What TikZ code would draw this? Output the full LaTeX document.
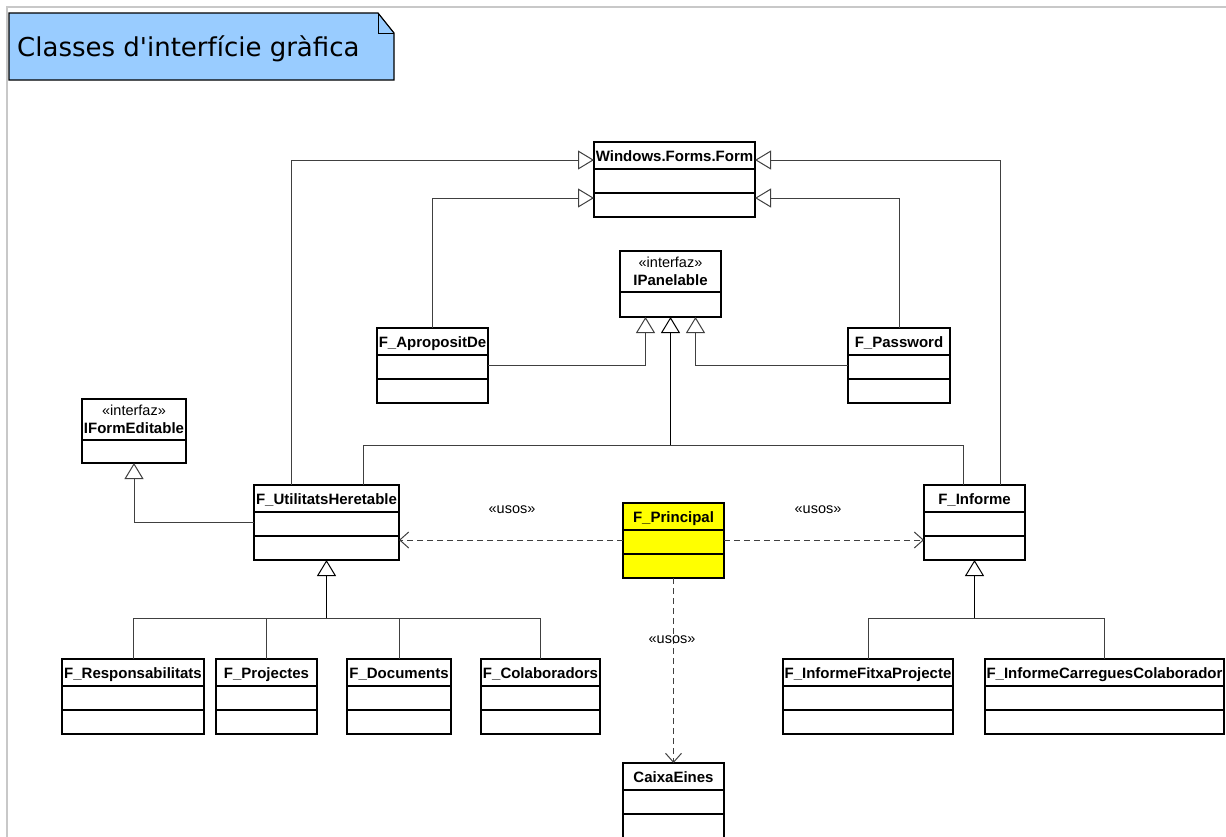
\documentclass[tikz,border=0pt]{standalone}
\usepackage{fontspec}
\setmainfont{Liberation Sans}
\newfontfamily\notefont{DejaVu Sans}
\usetikzlibrary{arrows.meta}

\definecolor{notefill}{HTML}{99CCFF}
\definecolor{mainfill}{HTML}{FFFF00}
\definecolor{framegray}{HTML}{C8C8C8}
\definecolor{wirecol}{HTML}{404040}

\tikzset{
  classbox/.style={draw=black, line width=1.3pt, inner sep=0pt, outer sep=0pt, anchor=north west, fill=white},
  divider/.style={draw=black, line width=1.2pt},
  cname/.style={font=\bfseries\fontsize{15}{17}\selectfont, anchor=base, inner sep=0pt},
  stereo/.style={font=\fontsize{14.5}{16}\selectfont, anchor=base, inner sep=0pt},
  wire/.style={draw=wirecol, line width=1pt},
  trunk/.style={draw=black, line width=1.8pt},
  gen/.style={-{Triangle[open, length=16pt, width=19pt, line width=1pt]}},
  dep/.style={wire, dash pattern=on 6pt off 4pt, -{Straight Barb[length=9pt, width=16pt, line width=1pt]}},
  uses/.style={font=\fontsize{14.5}{16}\selectfont, inner sep=0pt},
}

% class box with a name compartment and two empty compartments
\newcommand\umlclass[6][white]{%
  \node[classbox, fill=#1, minimum width=#5pt, minimum height=75pt] (#2) at (#3,#4) {};
  \node[cname] (#2-name) at ([yshift=-19pt]#2.north) {#6};
  \draw[divider] ([yshift=-27pt]#2.north west) -- ([yshift=-27pt]#2.north east);
  \draw[divider] ([yshift=-51pt]#2.north west) -- ([yshift=-51pt]#2.north east);
}

% interface box: stereotype, name and one empty compartment
\newcommand\umliface[6]{%
  \node[classbox, minimum width=#4pt, minimum height=#5pt] (#1) at (#2,#3) {};
  \node[stereo] (#1-st) at ([yshift=-16pt]#1.north) {«interfaz»};
  \node[cname] (#1-name) at ([yshift=-34pt]#1.north) {#6};
  \draw[divider] ([yshift=-41pt]#1.north west) -- ([yshift=-41pt]#1.north east);
}

\begin{document}
\begin{tikzpicture}[x=1pt, y=-1pt]
  \useasboundingbox (0,0) rectangle (1226,836);
  \clip (0,0) rectangle (1226,836);

  % outer frame
  \draw[framegray, line width=2pt] (7,840) -- (7,7) -- (1230,7);

  % title note with folded corner
  \draw[fill=notefill, line width=1.2pt] (9,13) -- (378,13) -- (394,33) -- (394,80) -- (9,80) -- cycle;
  \draw[line width=1pt] (378,13) -- (378,33) -- (394,33);
  \node[font=\notefont\fontsize{26}{30}\selectfont, anchor=base west, inner sep=0pt] (title) at (17,56) {Classes d'interfície gràfica};

  % classes
  \umlclass{wff}{594}{142}{161}{Windows.Forms.Form}
  \umliface{ip}{620}{251}{101}{66}{IPanelable}
  \umliface{ife}{82}{399}{104}{64}{IFormEditable}
  \umlclass{ap}{377}{328}{111}{F\_ApropositDe}
  \umlclass{pw}{848}{328}{102}{F\_Password}
  \umlclass{uh}{254}{485}{145}{F\_UtilitatsHeretable}
  \umlclass{fi}{924}{485}{101}{F\_Informe}
  \umlclass[mainfill]{fp}{623}{503}{101}{F\_Principal}
  \umlclass{fr}{62}{659}{142}{F\_Responsabilitats}
  \umlclass{fpj}{216}{659}{101}{F\_Projectes}
  \umlclass{fd}{347}{659}{104}{F\_Documents}
  \umlclass{fc}{481}{659}{119}{F\_Colaboradors}
  \umlclass{fifp}{783}{659}{170}{F\_InformeFitxaProjecte}
  \umlclass{ficc}{985}{659}{239}{F\_InformeCarreguesColaborador}
  \umlclass{ce}{623}{763}{101}{CaixaEines}

  % generalizations towards Windows.Forms.Form
  \draw[wire, gen] ([xshift=37pt]uh.north west) |- (wff.west |- 0,160);
  \draw[wire, gen] (ap.north) |- (wff.west |- 0,198);
  \draw[wire, gen] (pw.north) |- (wff.east |- 0,198);
  \draw[wire, gen] ([xshift=-25pt]fi.north east) |- (wff.east |- 0,160);

  % realizations of IPanelable
  \draw[wire, gen] (ap.east |- 0,365) -| ([xshift=-25pt]ip.south);
  \draw[wire, gen] (pw.west |- 0,365) -| ([xshift=25pt]ip.south);
  \draw[wire] ([xshift=109pt]uh.north west) -- ++(0,-40) -| ([xshift=39pt]fi.north west);
  \draw[trunk, gen] (ip.south |- 0,445) -- (ip.south);

  % realization of IFormEditable
  \draw[wire, gen] (uh.west |- 0,522) -| (ife.south);

  % subclasses of F_UtilitatsHeretable
  \draw[trunk, gen] (uh.south |- 0,618) -- (uh.south);
  \draw[wire] (fr.north) |- (fc.north |- 0,618) -- (fc.north);
  \draw[wire] (fpj.north) -- (fpj.north |- 0,618);
  \draw[wire] (fd.north) -- (fd.north |- 0,618);

  % subclasses of F_Informe
  \draw[trunk, gen] (fi.south |- 0,618) -- (fi.south);
  \draw[wire] (fifp.north) |- (ficc.north |- 0,618) -- (ficc.north);

  % usage dependencies of F_Principal
  \draw[dep] (fp.west |- 0,540) -- (uh.east |- 0,540);
  \draw[dep] (fp.east |- 0,540) -- (fi.west |- 0,540);
  \draw[dep] (fp.south) -- (ce.north);
  \node[uses] (u1) at (512,510) {«usos»};
  \node[uses] (u2) at (818,510) {«usos»};
  \node[uses] (u3) at (672,640) {«usos»};
\end{tikzpicture}
\end{document}
